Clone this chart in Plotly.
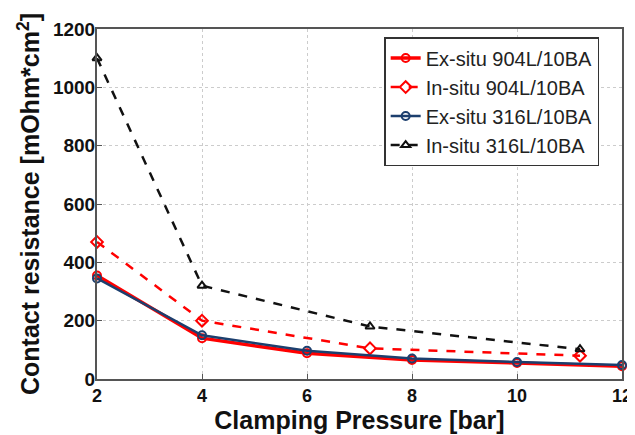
import plotly.graph_objects as go

x_ex = [2, 4, 6, 8, 10, 12]
x_in = [2, 4, 7.2, 11.2]
ex_904 = [355, 140, 88, 65, 55, 44]
in_904 = [470, 200, 105, 80]
ex_316 = [345, 150, 97, 70, 58, 48]
in_316 = [1100, 320, 180, 102]
names = ["Ex-situ 904L/10BA", "In-situ 904L/10BA", "Ex-situ 316L/10BA", "In-situ 316L/10BA"]

fig = go.Figure()
fig.add_trace(go.Scatter(x=x_ex, y=ex_904, name=names[0], mode="lines+markers", cliponaxis=False,
                         line=dict(color="#ff0000", width=3.5),
                         marker=dict(symbol="circle-open", size=8, color="#ff0000", line=dict(width=2))))
fig.add_trace(go.Scatter(x=x_in, y=in_904, name=names[1], mode="lines+markers", cliponaxis=False,
                         line=dict(color="#ff0000", width=2.5, dash="dash"),
                         marker=dict(symbol="diamond-open", size=9, color="#ff0000", line=dict(width=2))))
fig.add_trace(go.Scatter(x=x_ex, y=ex_316, name=names[2], mode="lines+markers", cliponaxis=False,
                         line=dict(color="#1c3f6e", width=2.5),
                         marker=dict(symbol="circle-open", size=8, color="#1c3f6e", line=dict(width=2))))
fig.add_trace(go.Scatter(x=x_in, y=in_316, name=names[3], mode="lines+markers", cliponaxis=False,
                         line=dict(color="#111111", width=2.5, dash="dash"),
                         marker=dict(symbol="triangle-up-open", size=8, color="#111111", line=dict(width=2))))

fig.update_layout(
    width=627, height=427,
    margin=dict(l=89, r=13, t=21, b=56),
    paper_bgcolor="white", plot_bgcolor="white",
    font=dict(family="Liberation Sans, Arial, sans-serif", color="#111111"),
    showlegend=True,
    legend=dict(x=0.547, y=0.977, xanchor="left", yanchor="top",
                bordercolor="#333333", borderwidth=1.5, bgcolor="white",
                font=dict(size=20, color="#222222"), tracegroupgap=0,
                itemwidth=30),
)
fig.update_xaxes(
    range=[2, 12], tickvals=[2, 4, 6, 8, 10, 12], automargin=False,
    showline=True, linecolor="#555555", linewidth=2, mirror=True,
    ticks="inside", ticklen=5, tickcolor="#555555", ticklabelstandoff=-1,
    showgrid=True, gridcolor="#cccccc", griddash="dot", gridwidth=1,
    tickfont=dict(size=18, family="Liberation Sans, Arial", weight="bold"),
    title=dict(text="<b>Clamping Pressure [bar]</b>", font=dict(size=25), standoff=0),
    zeroline=False,
)
fig.update_yaxes(
    range=[0, 1200], tickvals=[0, 200, 400, 600, 800, 1000, 1200], automargin=False,
    showline=True, linecolor="#555555", linewidth=2, mirror=True,
    ticks="inside", ticklen=5, tickcolor="#555555", ticklabelstandoff=-4,
    showgrid=True, gridcolor="#cccccc", griddash="dot", gridwidth=1,
    tickfont=dict(size=19, family="Liberation Sans, Arial", weight="bold"),
    title=dict(text="<b>Contact resistance [mOhm*cm<sup>2</sup>]</b>", font=dict(size=25), standoff=6),
    zeroline=False,
)

fig.write_html("out.html")
